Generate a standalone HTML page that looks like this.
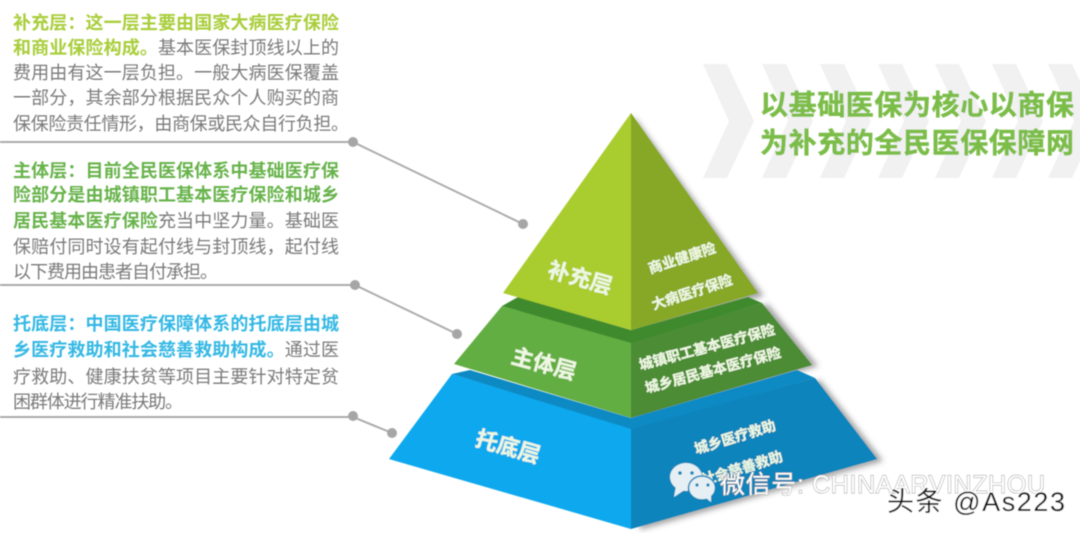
<!DOCTYPE html>
<html lang="zh">
<head>
<meta charset="utf-8">
<title>全民医保保障网</title>
<style>
html,body{margin:0;padding:0;background:#fff;width:1080px;height:533px;overflow:hidden}
svg{display:block}
text{font-family:"Liberation Sans","Noto Sans CJK SC",sans-serif}
.b{font-size:18px;fill:#7a7a7a;dominant-baseline:central}
.h{font-weight:700}
.lime{fill:#a9ce3a}.grn{fill:#68b34c}.blu{fill:#35b8e4}
.lbl{fill:#eef7e2;font-weight:700;text-anchor:middle;dominant-baseline:central;stroke:#eef7e2;stroke-width:.3}
.big{font-size:22px}.sm{font-size:14px}
</style>
</head>
<body>
<svg width="1080" height="533" viewBox="0 0 1080 533" xmlns="http://www.w3.org/2000/svg">
<defs>
<filter id="soft" x="-5%" y="-5%" width="110%" height="110%"><feGaussianBlur stdDeviation="0.55"/></filter>
<filter id="sh" x="-20%" y="-20%" width="140%" height="140%"><feGaussianBlur stdDeviation="3"/></filter>
<polygon id="chev" points="703,64 727,64 754,121 727,178 703,178 729,121" fill="#f1f1f1"/>
</defs>

<g filter="url(#soft)">
<!-- chevrons -->
<use href="#chev"/>
<use href="#chev" x="59"/>
<use href="#chev" x="117"/>
<use href="#chev" x="175"/>
<use href="#chev" x="232"/>
<use href="#chev" x="289"/>
<use href="#chev" x="345"/>

<!-- connectors -->
<g stroke="#ababab" stroke-width="2" fill="none">
<path d="M0 142H353L523 224"/>
<path d="M0 285H355L457 334"/>
<path d="M0 417H353L392 433"/>
</g>
<g fill="#a6a6a6">
<circle cx="353" cy="142" r="5"/><circle cx="523" cy="224" r="5"/>
<circle cx="355" cy="285" r="5"/><circle cx="457" cy="334" r="5"/>
<circle cx="353" cy="416" r="5"/><circle cx="392" cy="433" r="5"/>
</g>

<!-- shadows -->
<g fill="#666" opacity=".6" filter="url(#sh)">
<polygon points="634,116 764,296 640,332"/>
<polygon points="640,345 768,304 818,366 640,420"/>
<polygon points="640,430 820,380 883,461 640,530"/>
</g>

<!-- bottom tier -->
<polygon points="389,459 452,374 631,428 631,529" fill="#0aa8ee"/>
<polygon points="631,428 815,378 877,459 631,529" fill="#0784bb"/>
<polygon points="470,370 631,418 797,370 815,378 631,429 452,374" fill="#0b8ac4"/>

<!-- middle tier -->
<polygon points="502,306 631,342 631,418 454,364" fill="#63ae43"/>
<polygon points="631,342 762,303 812,365 631,418" fill="#4b8c35"/>
<polygon points="518,297 631,330 748,297 762,303 631,343 502,306" fill="#3f8a2e"/>

<!-- top tier -->
<polygon points="631,113 631,330 503,293" fill="#a9cc2d"/>
<polygon points="631,113 758,293 631,330" fill="#86a826"/>

<!-- tier labels -->
<text class="lbl big" transform="translate(580 278) rotate(16)">补充层</text>
<text class="lbl sm" transform="translate(682 258) rotate(-18)">商业健康险</text>
<text class="lbl sm" transform="translate(692 292) rotate(-18)">大病医疗保险</text>
<text class="lbl big" transform="translate(544 364) rotate(15)">主体层</text>
<text class="lbl sm" transform="translate(707 347) rotate(-15)">城镇职工基本医疗保险</text>
<text class="lbl sm" transform="translate(713 370) rotate(-15)">城乡居民基本医疗保险</text>
<text class="lbl big" transform="translate(508 447) rotate(16)">托底层</text>
<text class="lbl sm" transform="translate(735 437) rotate(-17)">城乡医疗救助</text>
<text class="lbl sm" transform="translate(742 468) rotate(-17)">社会慈善救助</text>

<!-- left text 1 -->
<text class="b h lime" x="13" y="23" textLength="326">补充层：这一层主要由国家大病医疗保险</text>
<text class="b" x="13" y="48" textLength="326"><tspan class="h lime">和商业保险构成。</tspan>基本医保封顶线以上的</text>
<text class="b" x="13" y="73" textLength="326">费用由有这一层负担。一般大病医保覆盖</text>
<text class="b" x="13" y="98" textLength="326">一部分，其余部分根据民众个人购买的商</text>
<text class="b" x="13" y="124" textLength="336">保保险责任情形，由商保或民众自行负担。</text>

<!-- left text 2 -->
<text class="b h grn" x="13" y="171" textLength="326">主体层：目前全民医保体系中基础医疗保</text>
<text class="b h grn" x="13" y="195" textLength="326">险部分是由城镇职工基本医疗保险和城乡</text>
<text class="b" x="13" y="221" textLength="326"><tspan class="h grn">居民基本医疗保险</tspan>充当中坚力量。基础医</text>
<text class="b" x="13" y="247" textLength="326">保赔付同时设有起付线与封顶线，起付线</text>
<text class="b" x="13" y="272" textLength="205">以下费用由患者自付承担。</text>

<!-- left text 3 -->
<text class="b h blu" x="13" y="324" textLength="326">托底层：中国医疗保障体系的托底层由城</text>
<text class="b" x="13" y="350" textLength="326"><tspan class="h blu">乡医疗救助和社会慈善救助构成。</tspan>通过医</text>
<text class="b" x="13" y="377" textLength="326">疗救助、健康扶贫等项目主要针对特定贫</text>
<text class="b" x="13" y="402" textLength="170">困群体进行精准扶助。</text>

<!-- title -->
<text x="760" y="105" textLength="314" font-size="28" font-weight="700" fill="#7cbd4a" stroke="#7cbd4a" stroke-width=".5" dominant-baseline="central">以基础医保为核心以商保</text>
<text x="760" y="143" textLength="314" font-size="28" font-weight="700" fill="#7cbd4a" stroke="#7cbd4a" stroke-width=".5" dominant-baseline="central">为补充的全民医保保障网</text>

<!-- wechat icon -->
<g>
<ellipse cx="686" cy="477" rx="16" ry="14" fill="#e6eff3"/>
<polygon points="676,486 674,497 686,489" fill="#e6eff3"/>
<ellipse cx="702" cy="488" rx="13.5" ry="12" fill="#e6eff3" stroke="#0784bb" stroke-width="1.5"/>
<polygon points="706,498 711,502 711,494" fill="#e6eff3"/>
<circle cx="680" cy="473" r="1.8" fill="#0784bb"/><circle cx="692" cy="473" r="1.8" fill="#0784bb"/>
<circle cx="697" cy="485" r="1.6" fill="#0784bb"/><circle cx="708" cy="485" r="1.6" fill="#0784bb"/>
</g>

<!-- watermarks -->
<text x="720" y="485" textLength="325" font-size="25" fill="#fff" stroke="#8c8c8c" stroke-width=".9" paint-order="stroke" dominant-baseline="central">微信号: CHINAARVINZHOU</text>
<text x="887" y="502" textLength="178" font-size="27" fill="#111" stroke="#fff" stroke-width="2" paint-order="stroke" dominant-baseline="central">头条 @As223</text>
</g>
</svg>
</body>
</html>
